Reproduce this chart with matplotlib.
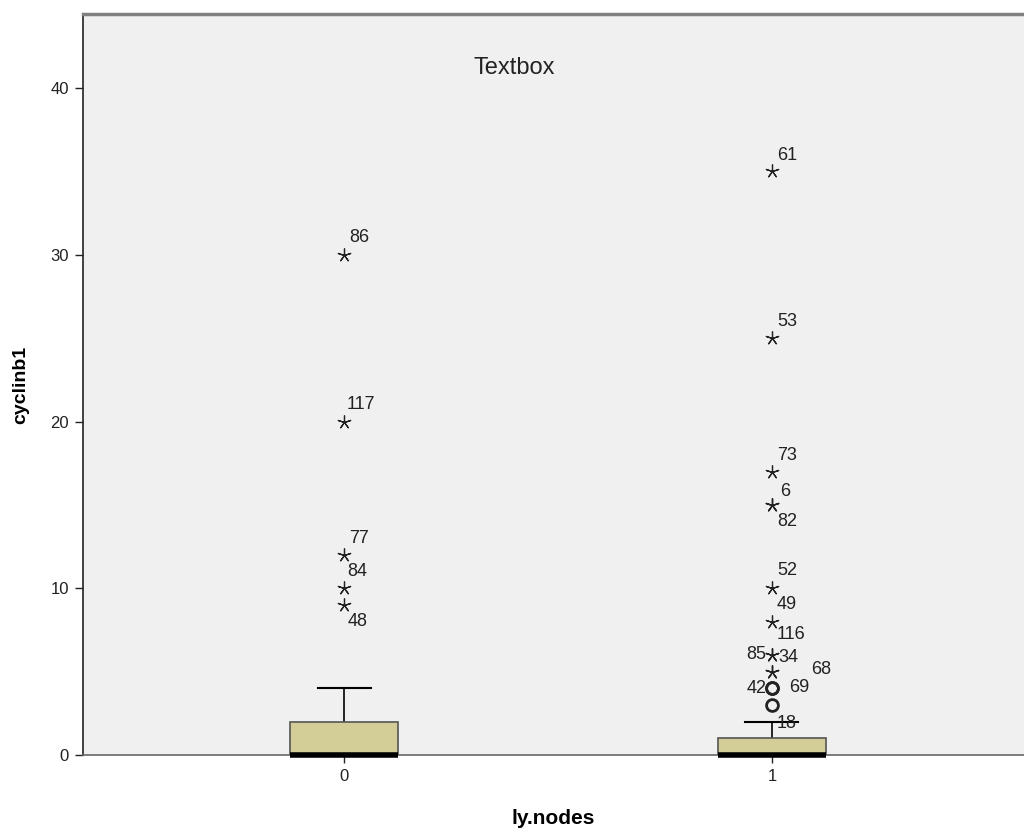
import matplotlib
matplotlib.use('Agg')
import matplotlib.pyplot as plt
from matplotlib.transforms import offset_copy

plt.rcParams['font.family'] = ['Liberation Sans', 'DejaVu Sans']

# box statistics per group (SPSS style)
groups = [0, 1]
q1 = [0, 0]
medians = [0, 0]
q3 = [2, 1]
whisker_hi = [4, 2]

# outliers: value, case id
out0_vals = [30, 20, 12, 10, 9]
out0_ids = ['86', '117', '77', '84', '48']
out1_vals = [35, 25, 17, 15, 15, 10, 8, 6, 6, 5, 5, 4, 4, 3]
out1_ids = ['61', '53', '73', '6', '82', '52', '49', '116', '85', '34', '68', '42', '69', '18']

# label offsets in pixels (dx, dy, ha)
off0 = [(5, 17, 'left'), (3, 17, 'left'), (5, 16, 'left'), (3, 17, 'left'), (4, -17, 'left')]
off1 = [(5, 16, 'left'), (5, 17, 'left'), (5, 16, 'left'), (8, 13, 'left'), (5, -17, 'left'),
        (5, 18, 'left'), (5, 17, 'left'), (5, 20, 'left'), (-6, 0, 'right'), (6, 14, 'left'),
        (39, 2, 'left'), (-5, 0, 'right'), (17, 1, 'left'), (5, -19, 'left')]

fig = plt.figure(figsize=(10.24, 8.31), dpi=100)
ax = fig.add_axes([83 / 1024, 76 / 831, 941 / 1024, 741 / 831])
ax.set_facecolor('#F0F0F0')

box_w = 0.252
cap_w = 0.124
for g, a, m, b, w in zip(groups, q1, medians, q3, whisker_hi):
    ax.plot([g, g], [b, w], color='black', lw=1.2, zorder=2)
    ax.plot([g - cap_w / 2, g + cap_w / 2], [w, w], color='black', lw=1.5, zorder=2)
    ax.add_patch(plt.Rectangle((g - box_w / 2, a), box_w, b - a, facecolor='#D3CE97',
                               edgecolor='#555555', lw=1.2, zorder=3))
    ax.plot([g - box_w / 2, g + box_w / 2], [m, m], color='black', lw=4, zorder=4,
            solid_capstyle='butt', clip_on=False)


def draw_outliers(g, vals, ids, offs, extreme):
    for v, lab, (dx, dy, ha) in zip(vals, ids, offs):
        if v > extreme:
            ax.plot(g, v, marker=(5, 2, 0), ms=10, mew=0.9, color='#222222', zorder=5)
        else:
            ax.plot(g, v, marker='o', ms=8.5, mew=2, mfc='none', mec='#222222', zorder=5)
        tr = offset_copy(ax.transData, fig=fig, x=dx * 0.72, y=dy * 0.72, units='points')
        ax.text(g, v, lab, transform=tr, ha=ha, va='center', fontsize=13, color='#222222')


for g, vals, ids, offs in [(0, out0_vals, out0_ids, off0), (1, out1_vals, out1_ids, off1)]:
    iqr = q3[g] - q1[g]
    draw_outliers(g, vals, ids, offs, q3[g] + 3 * iqr)

ax.set_xlim(-0.610, 1.589)
ax.set_ylim(0, 44.44)
ax.set_xticks(groups)
ax.set_xticklabels(['0', '1'])
ax.set_yticks([0, 10, 20, 30, 40])
ax.tick_params(axis='both', direction='out', length=6, width=1, labelsize=12, colors='#222222',
               pad=4)

ax.spines['right'].set_visible(False)
ax.spines['top'].set_color('#808080')
ax.spines['top'].set_linewidth(2.5)
ax.spines['bottom'].set_color('#666666')
ax.spines['bottom'].set_linewidth(1.2)
ax.spines['left'].set_color('#222222')
ax.spines['left'].set_linewidth(1.2)

ax.set_xlabel('ly.nodes', fontsize=15, fontweight='bold', labelpad=18)
ax.set_ylabel('cyclinb1', fontsize=14, fontweight='bold', labelpad=15)

ax.text(0.458, 0.927, 'Textbox', transform=ax.transAxes, ha='center', va='center', fontsize=17,
        color='#222222')

fig.savefig('out.png', dpi=100)
